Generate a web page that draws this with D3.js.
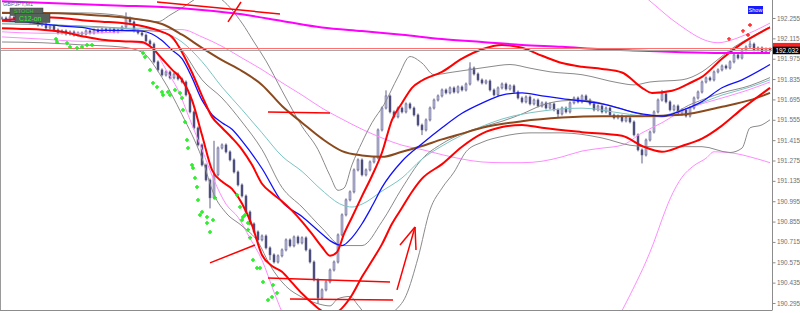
<!DOCTYPE html>
<html>
<head>
<meta charset="utf-8">
<script src="https://cdn.jsdelivr.net/npm/d3@7"></script>
<style>
    html, body { margin: 0; padding: 0; background: #fff; }
    svg { display: block; }
    .axis text { font-family: "Liberation Sans", Arial, sans-serif; font-size: 6.4px; fill: #707070; }
    .axis path, .axis line { stroke: #8c8c8c; }
</style>
</head>
<body>
<div id="chart"></div>
<script>
// GBPJPY M1 closes, one bar per index
var closes = [
    192.255, 192.241, 192.262, 192.248, 192.255, 192.235, 192.241, 192.221, 192.228, 192.207,
    192.214, 192.186, 192.200, 192.173, 192.152, 192.166, 192.145, 192.159, 192.138, 192.152,
    192.145, 192.166, 192.152, 192.173, 192.159, 192.180, 192.166, 192.180, 192.159, 192.173,
    192.193, 192.255, 192.228, 192.166, 192.152, 192.138, 192.097, 192.076, 191.953, 191.898,
    191.863, 191.884, 191.843, 191.870, 191.836, 191.815, 191.726, 191.609, 191.499, 191.382,
    191.244, 191.141, 191.018, 191.176, 191.361, 191.382, 191.334, 191.279, 191.196, 191.107,
    191.031, 190.921, 190.839, 190.784, 190.729, 190.756, 190.674, 190.626, 190.577, 190.619,
    190.660, 190.729, 190.688, 190.749, 190.708, 190.743, 190.660, 190.577, 190.454, 190.330,
    190.385, 190.440, 190.522, 190.577, 190.763, 190.901, 191.004, 191.059, 191.210, 191.279,
    191.176, 191.210, 191.265, 191.293, 191.485, 191.636, 191.719, 191.609, 191.575, 191.636,
    191.609, 191.664, 191.636, 191.588, 191.519, 191.485, 191.554, 191.636, 191.691, 191.719,
    191.760, 191.740, 191.774, 191.746, 191.781, 191.760, 191.801, 191.911, 191.870, 191.829,
    191.808, 191.822, 191.760, 191.726, 191.774, 191.801, 191.767, 191.788, 191.746, 191.705,
    191.678, 191.712, 191.664, 191.691, 191.650, 191.671, 191.636, 191.664, 191.623, 191.595,
    191.636, 191.609, 191.671, 191.705, 191.678, 191.719, 191.691, 191.664, 191.623, 191.650,
    191.609, 191.636, 191.588, 191.568, 191.581, 191.547, 191.568, 191.540, 191.451, 191.348,
    191.313, 191.416, 191.471, 191.609, 191.691, 191.733, 191.678, 191.623, 191.650, 191.595,
    191.623, 191.581, 191.636, 191.705, 191.746, 191.815, 191.843, 191.829, 191.884, 191.898,
    191.925, 191.911, 191.953, 192.001, 191.980, 192.035, 192.056, 192.076, 192.035, 192.049,
    192.021, 192.042, 192.032
];
var spikeHighs = [[31, 192.283], [96, 191.747], [117, 191.94], [53, 191.40], [165, 191.75], [187, 192.09]];
var spikeLows = [[79, 190.30], [160, 191.265], [52, 190.956], [67, 190.60], [105, 191.46], [139, 191.58]];

var priceTicks = [192.255, 192.115, 191.975, 191.835, 191.695, 191.555, 191.415, 191.275,
    191.135, 190.995, 190.855, 190.715, 190.575, 190.435, 190.295];
var bidPrice = 192.032, askPrice = 192.049;

// indicator lines: [bar, price]
var maMagenta = [[0,192.37],[10,192.36],[20,192.35],[30,192.34],[40,192.33],[50,192.31],[60,192.28],[70,192.235],
    [80,192.19],[90,192.165],[100,192.14],[110,192.11],[120,192.09],[130,192.07],[140,192.057],[150,192.04],
    [160,192.03],[170,192.02],[180,192.015],[192,192.015]];
var maBrown = [[0,192.29],[10,192.29],[20,192.28],[30,192.26],[40,192.214],[45,192.14],[50,192.05],[55,191.965],
    [60,191.89],[65,191.795],[70,191.65],[75,191.535],[80,191.425],[85,191.34],[90,191.31],[95,191.30],[100,191.335],
    [105,191.375],[110,191.42],[115,191.46],[120,191.50],[130,191.545],[140,191.57],[150,191.58],[160,191.58],
    [170,191.59],[180,191.645],[187,191.69],[192,191.74]];
var maBlue = [[0,192.235],[5,192.23],[10,192.215],[15,192.20],[20,192.19],[25,192.17],[30,192.17],[35,192.165],
    [37.5,192.145],[40,192.10],[42.5,192.035],[45,191.975],[47.5,191.845],[50,191.69],[52.5,191.59],[55,191.535],
    [57.5,191.49],[60,191.41],[65,191.22],[70,190.99],[75,190.89],[80,190.77],[82.5,190.715],[85,190.69],
    [87.5,190.745],[90,190.84],[92.5,190.96],[95,191.09],[100,191.27],[105,191.39],[110,191.50],[115,191.60],
    [120,191.67],[125,191.725],[130,191.74],[135,191.72],[140,191.70],[150,191.665],[160,191.595],[165,191.58],
    [170,191.62],[175,191.68],[180,191.775],[185,191.83],[192,191.935]];
var maCyan = [[0,192.23],[10,192.215],[20,192.195],[30,192.185],[35,192.185],[40,192.16],[45,192.09],[50,191.955],
    [55,191.78],[60,191.625],[65,191.465],[70,191.305],[75,191.20],[80,191.07],[85,190.97],[87.5,190.955],
    [90,190.975],[95,191.065],[100,191.155],[105,191.285],[110,191.375],[115,191.45],[120,191.51],[125,191.56],
    [135,191.615],[145,191.635],[155,191.60],[162.5,191.575],[170,191.62],[180,191.725],[187,191.78],[192,191.83]];
var redUpper = [[0,192.24],[5,192.25],[10,192.26],[15,192.255],[20,192.24],[25,192.23],[30,192.22],[35,192.20],
    [40,192.16],[42.5,192.125],[45,192.02],[47.5,191.88],[50,191.72],[52.5,191.575],[55,191.50],[57.5,191.43],
    [60,191.35],[62.5,191.245],[65,191.115],[67.5,191.05],[70,190.995],[72.5,190.93],[75,190.855],[77.5,190.77],
    [80,190.68],[82,190.62],[83.75,190.645],[85.5,190.77],[87.5,190.885],[90,191.03],[92.5,191.17],[95,191.33],
    [97.5,191.555],[100,191.67],[102.5,191.775],[105,191.825],[110,191.885],[115,191.975],[120,192.04],
    [125,192.07],[130,192.05],[135,191.995],[140,191.945],[145,191.92],[150,191.905],[155,191.88],[160,191.775],
    [162.5,191.74],[167.5,191.755],[172.5,191.815],[175,191.85],[180,191.975],[185,192.08],[192,192.19]];
var redLower = [[0,192.185],[5,192.18],[10,192.175],[15,192.16],[20,192.13],[25,192.105],[30,192.095],[35,192.09],
    [37.5,192.05],[40,191.975],[42.5,191.90],[45,191.83],[47.5,191.69],[50,191.45],[52.5,191.21],[55,191.13],
    [57.5,191.08],[60,190.98],[62.5,190.83],[65,190.625],[67.5,190.55],[70,190.51],[72.5,190.435],[75,190.36],
    [77.5,190.295],[80,190.24],[82.5,190.215],[85,190.26],[87.5,190.35],[90,190.475],[92.5,190.585],[95,190.70],
    [97.5,190.84],[100,190.95],[102.5,191.06],[105,191.15],[110,191.25],[115,191.37],[120,191.46],[125,191.505],
    [130,191.52],[135,191.50],[145,191.47],[155,191.445],[160,191.375],[165,191.335],[170,191.375],[175,191.425],
    [180,191.515],[185,191.63],[192,191.775]];
var grayUpper = [[0,192.295],[10,192.29],[20,192.29],[30,192.27],[35,192.24],[39,192.23],[42,192.275],[45,192.325],
    [48,192.38],[51,192.435],[55,192.38],[60,192.22],[63,192.09],[66,191.96],[70,191.755],[75,191.51],[79,191.35],
    [82,191.17],[84,191.07],[85.5,191.085],[87.5,191.245],[90,191.40],[92.5,191.535],[95.5,191.66],[99,191.85],
    [102,191.99],[105,191.945],[108,191.865],[112,191.88],[117,191.90],[122,191.92],[127,191.935],[132,191.91],
    [137,191.885],[145,191.865],[154,191.81],[158,191.795],[162,191.815],[170,191.83],[175,191.885],[179,191.97],
    [183,192.055],[187,192.12],[192,192.195]];
var grayLower = [[0,192.09],[10,192.085],[20,192.07],[30,192.055],[35,192.02],[40,191.845],[45,191.59],[50,191.29],
    [53,191.04],[56,190.915],[60,190.825],[64,190.715],[67,190.555],[71,190.41],[75,190.335],[79,190.29],
    [82,190.275],[84,190.325],[87,190.34],[89,190.28],[92,190.19],[96,190.18],[98,190.235],[101,190.345],
    [104,190.605],[107,190.935],[110,191.085],[113,191.195],[116,191.335],[120,191.40],[125,191.44],[132,191.465],
    [140,191.465],[150,191.43],[157,191.38],[162,191.37],[175,191.37],[182,191.33],[185,191.36],[187,191.50],
    [190,191.52],[192,191.555]];
var grayInner = [[0,192.215],[10,192.21],[20,192.20],[30,192.185],[35,192.17],[40,192.16],[45,192.035],[50,191.83],
    [55,191.705],[60,191.54],[65,191.35],[70,191.09],[75,190.955],[80,190.81],[85,190.69],[90,190.69],[95,190.855],
    [100,191.085],[105,191.285],[110,191.39],[115,191.46],[120,191.505],[125,191.545],[130,191.595],[135,191.655],
    [140,191.685],[145,191.69],[152.5,191.65],[160,191.59],[165,191.575],[172.5,191.665],[180,191.74],[187,191.79],
    [192,191.845]];
var pinkMid = [[0,192.16],[10,192.15],[20,192.15],[30,192.16],[40,192.175],[45,192.175],[50,192.125],[55,192.06],
    [60,191.98],[65,191.90],[70,191.81],[75,191.725],[80,191.635],[85,191.56],[90,191.49],[95,191.43],[100,191.38],
    [105,191.35],[110,191.315],[115,191.285],[120,191.265],[125,191.26],[130,191.26],[135,191.27],[140,191.30],
    [145,191.34],[150,191.36],[155,191.38],[160,191.465],[165,191.535],[170,191.615],[175,191.665],[180,191.705],
    [186,191.755],[192,191.815]];
var pinkLowFast = [[0,192.125],[10,192.11],[20,192.095],[30,192.095],[35,192.08],[38,192.035],[41,191.90],[44,191.76],
    [47,191.555],[50,191.35],[53,191.14],[56,190.975],[59,190.885],[62,190.74],[65,190.59],[68,190.37],[71,190.165]];
var pinkLowRight = [[154,190.19],[158,190.405],[161,190.58],[163,190.715],[165,190.87],[167,191.01],[170,191.16],
    [173,191.24],[176,191.29],[178,191.335],[183,191.325],[187,191.30],[192,191.26]];
var pinkUpperRight = [[161,192.395],[164,192.325],[167,192.255],[170,192.195],[173,192.14],[176,192.10],[179,192.085],
    [182,192.10],[185,192.13],[188,192.165],[192,192.22]];

var greenMarks = [[13.5,192.111],[13.75,192.09],[16.25,192.083],[17,192.056],[18.75,192.049],[20,192.056],
    [21.25,192.07],[22.5,192.07],[35.25,192.015],[35.75,191.987],[37,191.898],[37.75,191.808],[38.75,191.781],
    [40,191.746],[40.25,191.726],[41.5,191.746],[42,191.726],[43.25,191.76],[44.5,191.74],[45,191.705],
    [45.25,191.623],[45.75,191.54],[46.25,191.416],[46.5,191.361],[47.5,191.244],[47.75,191.224],[48.25,191.155],
    [48.75,191.093],[49,191.004],[50,190.921],[49.5,190.901],[51.25,190.887],[51.25,190.846],[52.75,190.866],
    [52,190.784],[53.25,191.018],[58.75,191.038],[59.5,190.956],[60.25,190.887],[60.75,190.901],[60,190.866],
    [61.5,190.846],[61.5,190.798],[62,190.743],[62.75,190.591],[63.75,190.536],[64.5,190.536],[65.25,190.44],
    [67.75,190.419],[67.5,190.337],[66.5,190.316],[68.75,190.364]];
var redMarks = [[181.75,192.111],[185.25,192.166],[187,192.207],[186.5,192.138]];

// hand drawn objects: [bar1, price1, bar2, price2]
var drawnLines = [
    [38.75,192.365,69.5,192.283], [56.5,192.228,59.75,192.365],
    [66.5,191.609,82,191.602], [52,190.571,63.25,190.694],
    [66.5,190.467,97,190.44], [72,190.323,97.75,190.316],
    [98.75,190.385,103.25,190.818], [99.5,190.694,103.25,190.818], [103.5,190.66,103.25,190.818]
];

var W = 800, H = 313, plotRight = 772, plotBottom = 310;

var x = d3.scaleLinear().domain([0, 192]).range([2, 770]);
var y = d3.scaleLinear().domain([190.295, 192.255]).range([303, 18]);

var svg = d3.select("#chart").append("svg").attr("width", W).attr("height", H);

svg.append("clipPath").attr("id", "plot")
    .append("rect").attr("x", 0).attr("y", 0).attr("width", plotRight).attr("height", plotBottom);

var plot = svg.append("g").attr("clip-path", "url(#plot)");

var _toMap = function(list) {
    var m = {};
    list.forEach(function(d) { m[d[0]] = d[1]; });
    return m;
};
var highMap = _toMap(spikeHighs), lowMap = _toMap(spikeLows);

var candles = closes.map(function(c, i) {
    var o = i > 0 ? closes[i - 1] : c;
    return {
        i: i, open: o, close: c,
        high: Math.max(o, c, highMap[i] !== undefined ? highMap[i] : -Infinity),
        low: Math.min(o, c, lowMap[i] !== undefined ? lowMap[i] : Infinity)
    };
});

var line = d3.line()
    .x(function(d) { return x(d[0]); })
    .y(function(d) { return y(d[1]); })
    .curve(d3.curveMonotoneX);

var _drawLine = function(data, color, width) {
    plot.append("path")
        .datum(data)
        .attr("d", line)
        .attr("fill", "none")
        .attr("stroke", color)
        .attr("stroke-width", width)
        .attr("stroke-linejoin", "round");
};

// candles
var cg = plot.append("g");
cg.selectAll(".wick").data(candles).enter().append("line")
    .attr("x1", function(d) { return x(d.i); })
    .attr("x2", function(d) { return x(d.i); })
    .attr("y1", function(d) { return y(d.high) - 1.5; })
    .attr("y2", function(d) { return y(d.low) + 1.5; })
    .attr("stroke", "#5c5c88")
    .attr("stroke-width", 1);
cg.selectAll(".body").data(candles).enter().append("rect")
    .attr("x", function(d) { return x(d.i) - 1; })
    .attr("width", 2)
    .attr("y", function(d) { return y(Math.max(d.open, d.close)); })
    .attr("height", function(d) { return Math.max(1, Math.abs(y(d.open) - y(d.close))); })
    .attr("fill", function(d) { return d.close >= d.open ? "#b8b8d6" : "#4a4a78"; })
    .attr("stroke", "#5a5a88")
    .attr("stroke-width", 0.5);

// indicators
_drawLine(pinkMid, "#ff8cff", 1);
_drawLine(pinkLowFast, "#ff8cff", 1);
_drawLine(pinkLowRight, "#ff8cff", 1);
_drawLine(pinkUpperRight, "#ff8cff", 1);
_drawLine(grayUpper, "#8a8a8a", 1);
_drawLine(grayLower, "#8a8a8a", 1);
_drawLine(grayInner, "#8a8a8a", 1);
_drawLine(maCyan, "#7cc4c4", 1);
_drawLine(maBrown, "#8b4a1e", 2);
_drawLine(maBlue, "#1010ff", 1.3);
_drawLine(redUpper, "#ff0000", 2);
_drawLine(redLower, "#ff0000", 2);
_drawLine(maMagenta, "#ff00ff", 2);

// ask / bid lines
plot.append("line").attr("x1", 0).attr("x2", plotRight)
    .attr("y1", Math.round(y(askPrice)) + 0.5).attr("y2", Math.round(y(askPrice)) + 0.5)
    .attr("stroke", "#ff7070").attr("stroke-width", 1);
plot.append("line").attr("x1", 0).attr("x2", plotRight)
    .attr("y1", Math.round(y(bidPrice)) + 0.5).attr("y2", Math.round(y(bidPrice)) + 0.5)
    .attr("stroke", "#a8a8a8").attr("stroke-width", 1);

// marks
var cross = function(s) { return "M" + (-s) + ",0H" + s + "M0," + (-s) + "V" + s; };
plot.selectAll(".gm").data(greenMarks).enter().append("path")
    .attr("transform", function(d) { return "translate(" + x(d[0]) + "," + y(d[1]) + ")"; })
    .attr("d", cross(2))
    .attr("stroke", "#22ee22").attr("stroke-width", 1.5).attr("fill", "none");
plot.selectAll(".rm").data(redMarks).enter().append("path")
    .attr("transform", function(d) { return "translate(" + x(d[0]) + "," + y(d[1]) + ")"; })
    .attr("d", cross(2))
    .attr("stroke", "#ff2020").attr("stroke-width", 1.3).attr("fill", "none");

// drawings
plot.selectAll(".dl").data(drawnLines).enter().append("line")
    .attr("x1", function(d) { return x(d[0]); })
    .attr("y1", function(d) { return y(d[1]); })
    .attr("x2", function(d) { return x(d[2]); })
    .attr("y2", function(d) { return y(d[3]); })
    .attr("stroke", "#ff0000").attr("stroke-width", 1.5);

// frame
svg.append("line").attr("x1", 0.5).attr("x2", 0.5).attr("y1", 0).attr("y2", plotBottom)
    .attr("stroke", "#9a9a9a");
svg.append("line").attr("x1", 0).attr("x2", plotRight).attr("y1", plotBottom + 0.5).attr("y2", plotBottom + 0.5)
    .attr("stroke", "#8c8c8c");

var axis = d3.axisRight(y).tickValues(priceTicks).tickFormat(d3.format(".3f")).tickSize(3).tickPadding(1.5);
svg.append("g").attr("class", "axis")
    .attr("transform", "translate(" + (plotRight + 0.5) + ",0)")
    .call(axis)
    .call(function(g) { g.select(".domain").attr("d", "M0,0V" + (plotBottom + 0.5)); });

// price labels
var by = y(bidPrice);
svg.append("rect").attr("x", plotRight + 1).attr("y", by - 7.5).attr("width", 27).attr("height", 4)
    .attr("fill", "#ff2020");
svg.append("rect").attr("x", plotRight + 1).attr("y", by - 3.8).attr("width", 27).attr("height", 7.6)
    .attr("fill", "#000");
svg.append("text").attr("x", plotRight + 3.5).attr("y", by + 2.4)
    .attr("font-family", "Liberation Sans, Arial, sans-serif").attr("font-size", 6.4)
    .attr("fill", "#fff").text(d3.format(".3f")(bidPrice));

// labels top left
svg.append("text").attr("x", 3).attr("y", 5.5)
    .attr("font-family", "Liberation Sans, Arial, sans-serif").attr("font-size", 5.5)
    .attr("fill", "#5a5a7a").text("GBPJPY,M1");
svg.append("rect").attr("x", 10).attr("y", 8).attr("width", 33).attr("height", 7.5)
    .attr("fill", "#56625a").attr("stroke", "#3a3a3a").attr("stroke-width", 0.5);
svg.append("text").attr("x", 14).attr("y", 13.3)
    .attr("font-family", "Liberation Sans, Arial, sans-serif").attr("font-size", 5.6)
    .attr("fill", "#22cc22").text("STOCH");
svg.append("rect").attr("x", 15).attr("y", 13.5).attr("width", 35).attr("height", 9)
    .attr("fill", "#56625a").attr("stroke", "#3a3a3a").attr("stroke-width", 0.5);
svg.append("text").attr("x", 19).attr("y", 21)
    .attr("font-family", "Liberation Sans, Arial, sans-serif").attr("font-size", 6.8)
    .attr("fill", "#33ee33").text("C12-on");

// show button
svg.append("rect").attr("x", 748).attr("y", 6).attr("width", 15).attr("height", 8)
    .attr("fill", "#1a1aff");
svg.append("text").attr("x", 755.5).attr("y", 12).attr("text-anchor", "middle")
    .attr("font-family", "Liberation Sans, Arial, sans-serif").attr("font-size", 5.5)
    .attr("fill", "#fff").text("Show");
</script>
</body>
</html>
